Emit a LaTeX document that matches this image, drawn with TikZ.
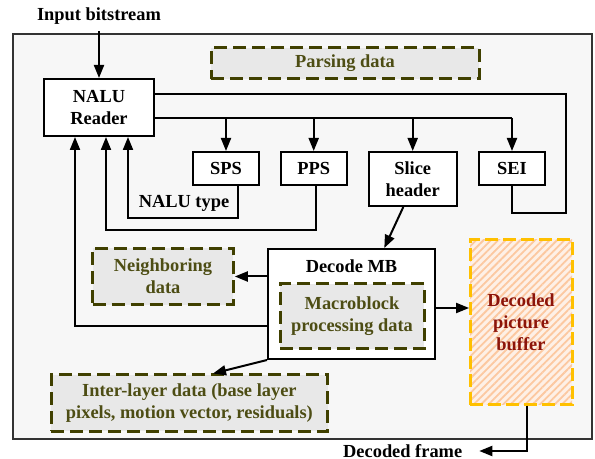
\documentclass[tikz,border=0pt]{standalone}
\usepackage{fontspec}
\setmainfont{Liberation Serif}
\usetikzlibrary{arrows.meta,patterns.meta}
\definecolor{olivebord}{RGB}{64,64,0}
\definecolor{olivetxt}{RGB}{77,77,20}
\definecolor{fondgris}{RGB}{247,247,247}
\definecolor{boitegris}{RGB}{232,232,232}
\definecolor{jaune}{RGB}{255,192,0}
\definecolor{rougefonce}{RGB}{140,20,10}
\definecolor{hachure}{RGB}{252,200,160}
\definecolor{fondorange}{RGB}{254,240,230}
\begin{document}
\begin{tikzpicture}[line join=miter,x=.5pt,y=-.5pt,
		every node/.style={font=\bfseries\fontsize{9.2}{11}\selectfont,align=center},
		boite/.style={draw,line width=1pt,fill=white,inner sep=0pt},
		donnees/.style={draw=olivebord,line width=1.5pt,dash pattern=on 6.5pt off 3pt,fill=boitegris,text=olivetxt,inner sep=0pt},
		tampon/.style={draw=jaune,line width=1.5pt,dash pattern=on 6.5pt off 2.5pt,preaction={fill=fondorange},pattern={Lines[angle=45,distance=2.6pt,line width=.9pt]},pattern color=hachure,text=rougefonce,inner sep=0pt},
		fleche/.style={-{Triangle[length=6.5pt,width=5pt]},line width=1pt},
		trait/.style={line width=1pt}]
		% Cadre
		\useasboundingbox (0,0) rectangle (595,459);
		\draw[fill=fondgris,line width=.6pt,draw=black!80] (13,34) rectangle (592,439);
		
		% Boites
		\node (entree) at (99,16) {Input bitstream};
		\node[boite,minimum width=55pt,minimum height=28.5pt] (nalu) at (99,107.5) {NALU\\Reader};
		\node[donnees,minimum width=134pt,minimum height=15.5pt] (parse) at (345,63.5) {Parsing data};
		\node[boite,minimum width=33pt,minimum height=16.5pt] (sps) at (226,168.5) {SPS};
		\node[boite,minimum width=33pt,minimum height=16.5pt] (pps) at (313.7,168.5) {PPS};
		\node[boite,minimum width=44pt,minimum height=27pt] (slice) at (412.7,179) {Slice\\header};
		\node[boite,minimum width=33pt,minimum height=16.5pt] (sei) at (512,168.5) {SEI};
		\node[boite,minimum width=83.5pt,minimum height=55pt] (dmb) at (351.5,304) {};
		\node (dmbtitre) at (351.5,266) {Decode MB};
		\node[donnees,minimum width=72pt,minimum height=32.5pt] (mbdata) at (352,316.5) {Macroblock\\processing data};
		\node[donnees,minimum width=70.3pt,minimum height=28.3pt] (voisin) at (163,276.5) {Neighboring\\data};
		\node[donnees,minimum width=138.3pt,minimum height=28.2pt] (inter) at (189.4,403.2) {Inter-layer data (base layer\\pixels, motion vector, residuals)};
		\node[tampon,minimum width=51pt,minimum height=82.8pt] (dpb) at (521,322) {Decoded\\picture\\buffer};
		\node (sortie) at (402.7,451) {Decoded frame};
		\node (type) at (184,203) {NALU type};
		
		% Points de passage
		\coordinate (boucle) at (566,94);
		\coordinate (bus) at (0,118);
		\coordinate (dmbE) at ([yshift=-2pt]dmb.east);
		
		% Liaisons
		\draw[fleche] (entree) -- (nalu);
		\draw[trait] (sei.south) -- ++(0,27) -| (boucle) -- (nalu.east |- boucle);
		\draw[trait] (nalu.east |- bus) -- (sei.north |- bus);
		\foreach \b in {sps,pps,slice,sei}
			\draw[fleche] (\b.north |- bus) -- (\b.north);
		\draw[fleche] ([xshift=6pt]sps.south) -- ++(0,32) -| ([xshift=14.5pt]nalu.south);
		\draw[fleche] ([xshift=1pt]pps.south) -- ++(0,44) -| ([xshift=3.5pt]nalu.south);
		\draw[fleche] ([yshift=-11pt]dmb.west) -| ([xshift=-12pt]nalu.south);
		\draw[fleche] ([xshift=-4.7pt]slice.south) -- ([xshift=16.4pt]dmb.north);
		\draw[fleche] (dmb.west |- voisin.east) -- (voisin.east);
		\draw[fleche] (dmbE) -- (dmbE -| dpb.west);
		\draw[fleche] (dmb.south west) -- ([xshift=11.8pt]inter.north);
		\draw[fleche] ([xshift=3pt]dpb.south) |- ([xshift=5pt]sortie.east);
	\end{tikzpicture}
\end{document}
